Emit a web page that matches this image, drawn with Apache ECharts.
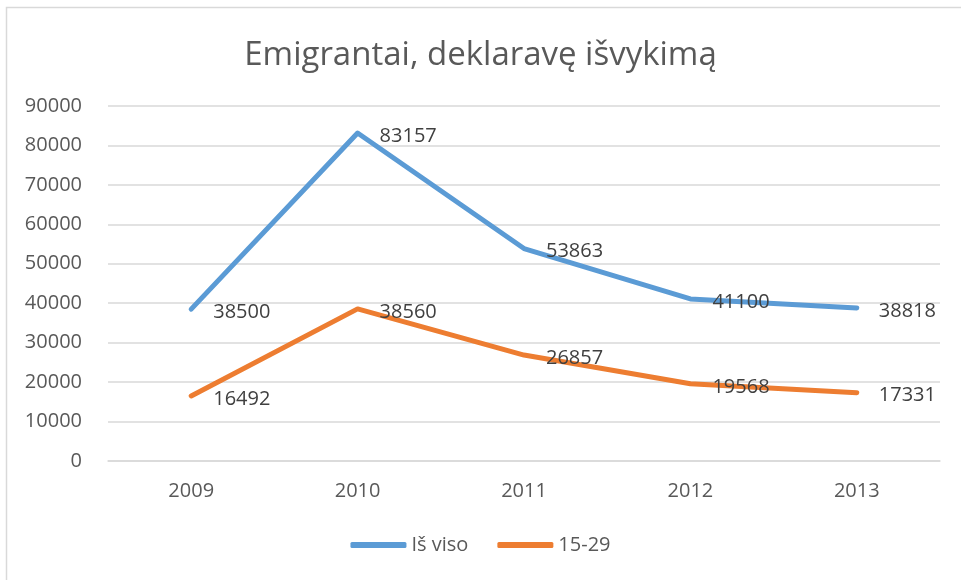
<!DOCTYPE html>
<html>
<head>
<meta charset="utf-8">
<script src="https://cdn.jsdelivr.net/npm/echarts@6/dist/echarts.min.js"></script>
<style>
  html, body { margin: 0; padding: 0; background: #fff; }
  #chart { width: 961px; height: 580px; }
</style>
</head>
<body>
<div id="chart"></div>
<script>
// 数据
const years = ['2009', '2010', '2011', '2012', '2013'];
const total = [38500, 83157, 53863, 41100, 38818];
const youth = [16492, 38560, 26857, 19568, 17331];
const yTicks = [0, 10000, 20000, 30000, 40000, 50000, 60000, 70000, 80000, 90000];

const myChart = echarts.init(document.getElementById('chart'));

const font = '"Open Sans", sans-serif';

const lineSeries = (name, data, color) => ({
  name,
  type: 'line',
  data,
  symbol: 'circle',
  symbolSize: 2,
  showSymbol: true,
  lineStyle: { width: 5, color, cap: 'round', join: 'round' },
  itemStyle: { color },
  label: {
    show: true,
    position: 'right',
    distance: 21,
    offset: [0, 3],
    color: '#404040',
    fontSize: 20,
    fontFamily: font
  }
});

const options = {
  animation: false,
  title: {
    text: 'Emigrantai, deklaravę išvykimą',
    left: 'center',
    top: 34,
    textStyle: { color: '#595959', fontSize: 33, fontWeight: 'normal', fontFamily: font }
  },
  graphic: [{
    type: 'rect',
    shape: { x: 6.5, y: 7.5, width: 1000, height: 1000 },
    style: { fill: 'none', stroke: '#d9d9d9', lineWidth: 1.5 },
    silent: true
  }],
  grid: { left: 108, right: 21, top: 106, bottom: 119 },
  legend: {
    bottom: 20,
    left: 'center',
    icon: 'roundRect',
    itemWidth: 56,
    itemHeight: 6,
    itemGap: 29,
    textStyle: { color: '#595959', fontSize: 20, fontFamily: font }
  },
  xAxis: {
    type: 'category',
    data: years,
    boundaryGap: true,
    axisLine: { lineStyle: { color: '#d9d9d9', width: 1.5 } },
    axisTick: { show: false },
    axisLabel: { color: '#595959', fontSize: 20, fontFamily: font, margin: 20 }
  },
  yAxis: {
    type: 'value',
    min: yTicks[0],
    max: yTicks[yTicks.length - 1],
    interval: 10000,
    axisLine: { show: false },
    axisTick: { show: false },
    splitLine: { lineStyle: { color: '#d9d9d9', width: 1.5 } },
    axisLabel: { color: '#595959', fontSize: 20, fontFamily: font, margin: 26, formatter: v => String(v) }
  },
  series: [
    lineSeries('Iš viso', total, '#5b9bd5'),
    lineSeries('15-29', youth, '#ed7d31')
  ]
};

myChart.setOption(options);
</script>
</body>
</html>
